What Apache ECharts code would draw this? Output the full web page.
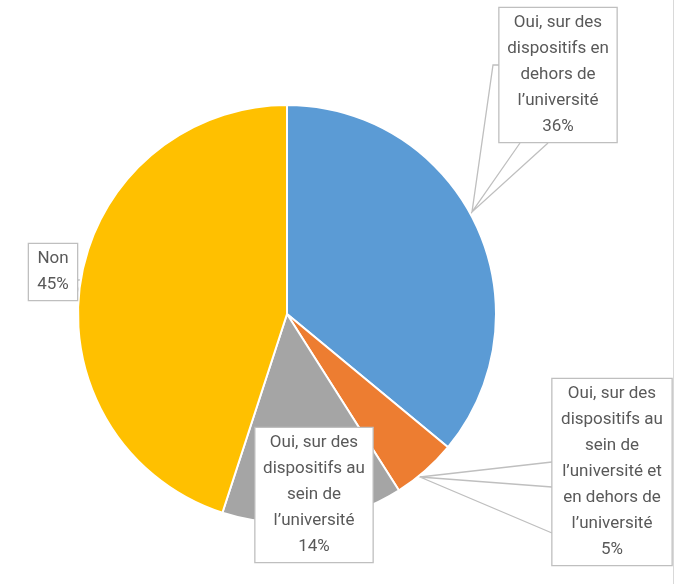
<!DOCTYPE html>
<html>
<head>
<meta charset="utf-8">
<script src="https://cdn.jsdelivr.net/npm/echarts@6/dist/echarts.min.js"></script>
<style>
  html, body { margin: 0; padding: 0; background: #fff; }
  #chart { width: 678px; height: 584px; }
</style>
</head>
<body>
<div id="chart"></div>
<script>
// slices, clockwise from 12 o'clock
var categories = [
  'Oui, sur des\ndispositifs en\ndehors de\nl’université',
  'Oui, sur des\ndispositifs au\nsein de\nl’université et\nen dehors de\nl’université',
  'Oui, sur des\ndispositifs au\nsein de\nl’université',
  'Non'
];
var values = [36, 5, 14, 45];
var colors = ['#5b9bd5', '#ed7d31', '#a5a5a5', '#ffc000'];

// callout boxes: centre x, top y, text width
var boxes = [
  { x: 558, y: 8, w: 105 },
  { x: 612, y: 379, w: 107 },
  { x: 314, y: 428, w: 105 },
  { x: 53, y: 244, w: 36 }
];
// pointer lines of the callouts
var pointers = [
  [[500, 65], [493, 65], [472, 212], [520, 143], [472, 212], [548, 143]],
  [[552, 462], [420, 477], [552, 487], [420, 477], [552, 533]],
  null,
  [[77, 280], [82, 280], [77, 294]]
];

var chart = echarts.init(document.getElementById('chart'));

var data = values.map(function (v, i) {
  var item = {
    value: v,
    name: categories[i],
    itemStyle: { color: colors[i] },
    label: { width: boxes[i].w }
  };
  if (!pointers[i]) item.labelLine = { show: false };
  return item;
});

var option = {
  animation: false,
  graphic: [{
    type: 'line',
    shape: { x1: 673.5, y1: 0, x2: 673.5, y2: 584 },
    style: { stroke: '#d9d9d9', lineWidth: 1 }
  }],
  series: [{
    type: 'pie',
    center: [287, 314],
    radius: 209,
    startAngle: 90,
    clockwise: true,
    avoidLabelOverlap: false,
    itemStyle: { borderColor: '#fff', borderWidth: 2 },
    label: {
      show: true,
      position: 'outside',
      formatter: '{b}\n{c}%',
      color: '#595959',
      fontFamily: 'Roboto',
      fontSize: 17,
      lineHeight: 26,
      align: 'center',
      overflow: 'none',
      backgroundColor: '#fff',
      borderColor: '#bfbfbf',
      borderWidth: 1.3,
      padding: [2, 6]
    },
    labelLine: {
      show: true,
      smooth: false,
      lineStyle: { color: '#bfbfbf', width: 1.3 }
    },
    labelLayout: function (p) {
      var b = boxes[p.dataIndex];
      var o = { x: b.x, y: b.y, align: 'center', verticalAlign: 'top' };
      if (pointers[p.dataIndex]) o.labelLinePoints = pointers[p.dataIndex];
      return o;
    },
    data: data
  }]
};

chart.setOption(option);
</script>
</body>
</html>
